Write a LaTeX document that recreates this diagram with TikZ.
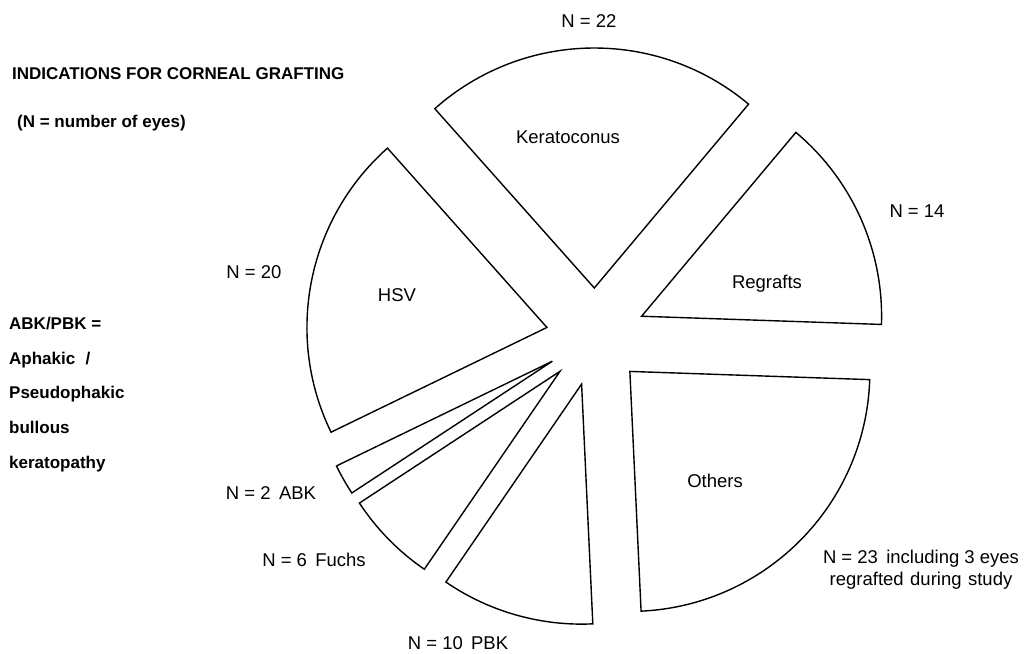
\documentclass[tikz,border=0pt]{standalone}
\usepackage{fontspec}
\setmainfont{Liberation Sans}
\tikzset{
  slice/.style={draw=black, fill=white, line width=1.4pt, line join=miter},
  lbl/.style={anchor=base, inner sep=0pt, font=\fontsize{18.5}{22}\selectfont},
  note/.style={anchor=base west, inner sep=0pt, font=\fontsize{17}{20}\selectfont\bfseries}
}
\begin{document}
\begin{tikzpicture}[x=1pt, y=1pt]
  \useasboundingbox (0,0) rectangle (1024,653);

  % exploded pie, centre at (595,316), radius 240
  \begin{scope}[shift={(595,316)}]
    \draw[slice, shift={(90.82:49)}]  (0,0) -- (50:240)     arc[start angle=50,     end angle=131.65, radius=240] -- cycle;
    \draw[slice, shift={(168.77:49)}] (0,0) -- (131.65:240) arc[start angle=131.65, end angle=205.88, radius=240] -- cycle;
    \draw[slice, shift={(209.59:49)}] (0,0) -- (205.88:240) arc[start angle=205.88, end angle=213.30, radius=240] -- cycle;
    \draw[slice, shift={(224.43:49)}] (0,0) -- (213.30:240) arc[start angle=213.30, end angle=235.57, radius=240] -- cycle;
    \draw[slice, shift={(254.12:49)}] (0,0) -- (235.57:240) arc[start angle=235.57, end angle=272.68, radius=240] -- cycle;
    \draw[slice, shift={(315.36:49)}] (0,0) -- (272.68:240) arc[start angle=272.68, end angle=358.04, radius=240] -- cycle;
    \draw[slice, shift={(24.02:51)}]  (0,0) -- (358.04:240) arc[start angle=358.04, end angle=410,    radius=240] -- cycle;
  \end{scope}

  % slice names
  \node[lbl] (kerato) at (568, 509.5) {Keratoconus};
  \node[lbl] (regraft) at (767, 364.5) {Regrafts};
  \node[lbl] (hsv) at (397, 351) {HSV};
  \node[lbl] (others) at (715, 165.5) {Others};

  % counts
  \node[lbl] (nkerato) at (589, 625.5) {N = 22};
  \node[lbl] (nregraft) at (917, 435.5) {N = 14};
  \node[lbl] (nhsv) at (254, 374.5) {N = 20};
  \node[lbl] (nabk) at (271, 153.5) {N = 2\hspace{0.45em}ABK};
  \node[lbl] (nfuchs) at (314, 86.5) {N = 6\hspace{0.45em}Fuchs};
  \node[lbl] (npbk) at (458, 3.5) {N = 10\hspace{0.45em}PBK};
  \node[lbl] (nothers) at (921, 89.5) {N = 23\hspace{0.45em}including 3 eyes};
  \node[lbl] (nothers2) at (921, 67.5) {regrafted\hspace{0.35em}during\hspace{0.35em}study};

  % title and legend
  \node[note] (title) at (12, 573) {INDICATIONS FOR CORNEAL GRAFTING};
  \node[note] (units) at (17, 525) {(N = number of eyes)};
  \node[note] (abbr1) at (9, 323) {ABK/PBK =};
  \node[note] (abbr2) at (9, 288) {Aphakic\hspace{0.6em}/};
  \node[note] (abbr3) at (9, 254) {Pseudophakic};
  \node[note] (abbr4) at (9, 219) {bullous};
  \node[note] (abbr5) at (9, 184) {keratopathy};
\end{tikzpicture}
\end{document}
